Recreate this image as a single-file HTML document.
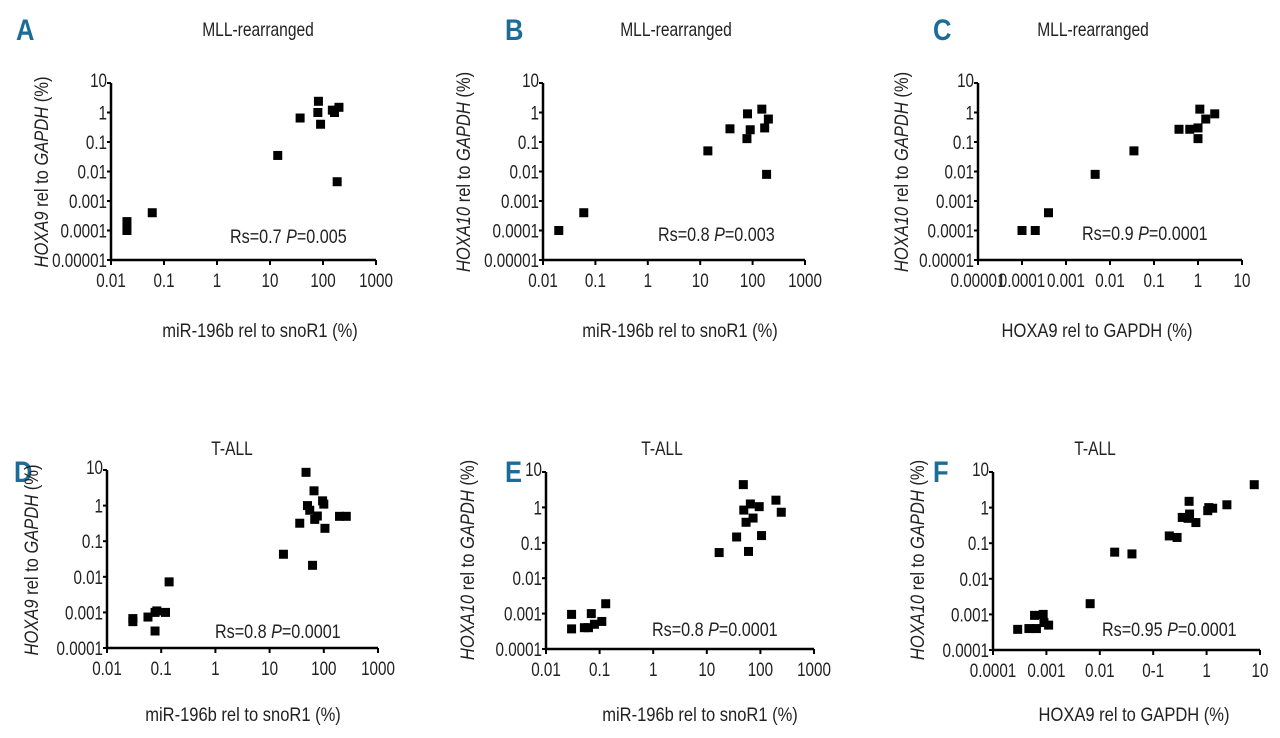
<!DOCTYPE html>
<html><head><meta charset="utf-8"><style>
html,body{margin:0;padding:0;background:#fff;}
svg{display:block;font-family:"Liberation Sans",sans-serif;}
.lbl{font-size:19px;fill:#222;}
.ttl{font-size:19px;fill:#222;}
.let{font-size:30px;font-weight:bold;fill:#1b6d98;}
</style></head><body>
<svg id="fig" width="1280" height="738" viewBox="0 0 1280 738" xmlns="http://www.w3.org/2000/svg"></svg>
<script>
// Panel A: miR-196b vs HOXA9 (MLL)
const aX=[0.02,0.02,0.06,14,37,82,80,90,150,165,200,185];
const aY=[0.0002,0.0001,0.0004,0.035,0.65,2.4,1.0,0.4,1.2,1.0,1.5,0.0045];
// Panel B: miR-196b vs HOXA10 (MLL)
const bX=[0.02,0.06,14,37,80,90,78,150,200,170,185];
const bY=[0.0001,0.0004,0.05,0.28,0.9,0.26,0.13,1.3,0.6,0.3,0.008];
// Panel C: HOXA9 vs HOXA10 (MLL)
const cX=[0.0001,0.0002,0.0004,0.0046,0.035,0.37,0.65,1.0,1.0,1.1,1.5,2.4];
const cY=[0.0001,0.0001,0.0004,0.008,0.05,0.27,0.27,0.3,0.13,1.3,0.6,0.9];
// Panel D: miR-196b vs HOXA9 (T-ALL)
const dX=[47,66,50,55,95,100,76,68,36,105,195,260,18,62,0.14,0.03,0.03,0.057,0.077,0.083,0.12,0.077];
const dY=[8.6,2.6,1.0,0.74,1.36,1.1,0.51,0.41,0.32,0.23,0.5,0.5,0.043,0.021,0.0072,0.00067,0.00055,0.00074,0.001,0.0011,0.001,0.0003];
// Panel E: miR-196b vs HOXA10 (T-ALL)
const eX=[48,65,49,95,73,54,195,245,36,105,60,17,0.03,0.03,0.052,0.062,0.07,0.08,0.11,0.13];
const eY=[4.4,1.25,0.84,1.05,0.5,0.38,1.6,0.73,0.146,0.16,0.057,0.053,0.00095,0.00037,0.0004,0.0004,0.001,0.0005,0.0006,0.0019];
// Panel F: HOXA9 vs HOXA10 (T-ALL)
const fX=[7.8,0.47,0.35,0.48,0.45,0.63,1.05,1.1,1.3,2.4,0.2,0.28,0.019,0.04,0.0066,0.00029,0.00047,0.00065,0.0006,0.00087,0.0009,0.0011];
const fY=[4.4,1.5,0.53,0.66,0.5,0.38,0.82,1.0,0.96,1.2,0.16,0.145,0.056,0.05,0.002,0.00038,0.0004,0.0004,0.00094,0.001,0.00059,0.0005];

const xTicksMir=["0.01","0.1","1","10","100","1000"];
const xTicksC=["0.00001","0.0001","0.001","0.01","0.1","1","10"];
const xTicksF=["0.0001","0.001","0.01","0-1","1","10"];
const yTicks6=["0.00001","0.0001","0.001","0.01","0.1","1","10"];
const yTicks5=["0.0001","0.001","0.01","0.1","1","10"];

const NS="http://www.w3.org/2000/svg";
const svg=document.getElementById('fig');
function mk(tag,attrs,parent){const e=document.createElementNS(NS,tag);for(const k in attrs)e.setAttribute(k,attrs[k]);(parent||svg).appendChild(e);return e;}
function txt(parent,x,y,anchor,cls,sc,rot){
  const tr=rot?`translate(${x},${y}) rotate(-90) scale(${sc},1)`:`translate(${x},${y}) scale(${sc},1)`;
  return mk('text',{x:0,y:0,'text-anchor':anchor,class:cls,transform:tr},parent);
}

const panels=[
 {id:'a',L:'A',lx:16,ly:40,title:'MLL-rearranged',tx:258,ty:36,x0:111,x1:376,xmin:-2,xmax:3,yT:83,yB:260,ymin:-5,ymax:1,xs:aX,ys:aY,xt:xTicksMir,yt:yTicks6,gene:'HOXA9',xlab:'miR-196b rel to snoR1 (%)',xlx:260,xly:337,ylx:48,yly:172,stat:['0.7','0.005'],sx:230,sy:243},
 {id:'b',L:'B',lx:505,ly:40,title:'MLL-rearranged',tx:676,ty:36,x0:543,x1:805,xmin:-2,xmax:3,yT:83,yB:260,ymin:-5,ymax:1,xs:bX,ys:bY,xt:xTicksMir,yt:yTicks6,gene:'HOXA10',xlab:'miR-196b rel to snoR1 (%)',xlx:680,xly:337,ylx:470,yly:172,stat:['0.8','0.003'],sx:658,sy:241},
 {id:'c',L:'C',lx:933,ly:40,title:'MLL-rearranged',tx:1093,ty:36,x0:978,x1:1242,xmin:-5,xmax:1,yT:83,yB:260,ymin:-5,ymax:1,xs:cX,ys:cY,xt:xTicksC,yt:yTicks6,gene:'HOXA10',xlab:'HOXA9 rel to GAPDH (%)',xlx:1097,xly:337,ylx:908,yly:172,stat:['0.9','0.0001'],sx:1082,sy:240},
 {id:'d',L:'D',lx:14,ly:482,title:'T-ALL',tx:232,ty:455,x0:107,x1:378,xmin:-2,xmax:3,yT:470,yB:648,ymin:-4,ymax:1,xs:dX,ys:dY,xt:xTicksMir,yt:yTicks5,gene:'HOXA9',xlab:'miR-196b rel to snoR1 (%)',xlx:243,xly:721,ylx:38,yly:560,stat:['0.8','0.0001'],sx:215,sy:638},
 {id:'e',L:'E',lx:505,ly:482,title:'T-ALL',tx:662,ty:455,x0:546,x1:814,xmin:-2,xmax:3,yT:472,yB:649,ymin:-4,ymax:1,xs:eX,ys:eY,xt:xTicksMir,yt:yTicks5,gene:'HOXA10',xlab:'miR-196b rel to snoR1 (%)',xlx:700,xly:721,ylx:474,yly:560,stat:['0.8','0.0001'],sx:652,sy:636},
 {id:'f',L:'F',lx:933,ly:482,title:'T-ALL',tx:1095,ty:455,x0:993,x1:1260,xmin:-4,xmax:1,yT:472,yB:650,ymin:-4,ymax:1,xs:fX,ys:fY,xt:xTicksF,yt:yTicks5,gene:'HOXA10',xlab:'HOXA9 rel to GAPDH (%)',xlx:1134,xly:721,ylx:924,yly:560,stat:['0.95','0.0001'],sx:1102,sy:636}
];

panels.forEach(p=>{
  const g=mk('g',{});
  
  
  const sx=v=>p.x0+(Math.log10(v)-p.xmin)/(p.xmax-p.xmin)*(p.x1-p.x0);
  const sy=v=>p.yB-(Math.log10(v)-p.ymin)/(p.ymax-p.ymin)*(p.yB-p.yT);
  const let_=txt(g,p.lx,p.ly,'start','let',0.85);let_.textContent=p.L;
  
  
  const t=txt(g,p.tx,p.ty,'middle','ttl',0.82);t.textContent=p.title;
  
  
  const ax=mk('path',{d:`M${p.x0} ${p.yT}V${p.yB}H${p.x1}`,stroke:'#000','stroke-width':2.5,fill:'none'},g);
  
  
  p.yt.forEach((s,i)=>{
    const y=sy(Math.pow(10,p.ymin+i));
    mk('line',{x1:p.x0-4,x2:p.x0,y1:y,y2:y,stroke:'#000','stroke-width':2},g);
    const tx=txt(g,p.x0-4,y+7+(i==p.yt.length-1?-3:0),'end','lbl',0.8);tx.textContent=s;
    
    
  });
  p.xt.forEach((s,i)=>{
    const x=sx(Math.pow(10,p.xmin+i));
    mk('line',{x1:x,x2:x,y1:p.yB,y2:p.yB+5,stroke:'#000','stroke-width':2},g);
    const tx=txt(g,x,p.yB+27,'middle','lbl',0.8);tx.textContent=s;
    
    
  });
  const xl=txt(g,p.xlx,p.xly,'middle','ttl',0.87);xl.textContent=p.xlab;
  
  
  const yl=txt(g,p.ylx,p.yly,'middle','ttl',0.87,true);
  
  
  const i1=mk('tspan',{'font-style':'italic'},yl);i1.textContent=p.gene;
  const t2=mk('tspan',{},yl);t2.textContent=' rel to ';
  const i2=mk('tspan',{'font-style':'italic'},yl);i2.textContent='GAPDH';
  const t3=mk('tspan',{},yl);t3.textContent=' (%)';
  const st=txt(g,p.sx,p.sy,'start','ttl',0.85);
  
  
  const s1=mk('tspan',{},st);s1.textContent='Rs='+p.stat[0]+' ';
  const s2=mk('tspan',{'font-style':'italic'},st);s2.textContent='P';
  const s3=mk('tspan',{},st);s3.textContent='='+p.stat[1];
  p.xs.forEach((v,i)=>{
    const r=mk('rect',{x:sx(v)-4.5,y:sy(p.ys[i])-4.5,width:9,height:9,fill:'#000'},g);
    
    
  });
});
</script>
</body></html>
